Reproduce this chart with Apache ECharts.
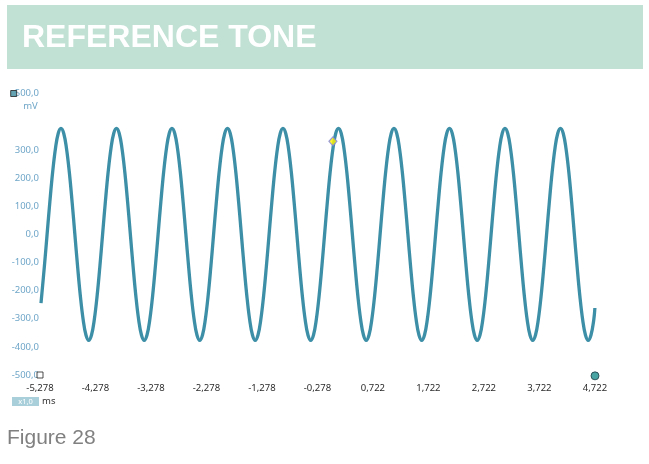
<!DOCTYPE html>
<html>
<head>
<meta charset="utf-8">
<script src="https://cdn.jsdelivr.net/npm/echarts@6/dist/echarts.min.js"></script>
<style>
html,body{margin:0;padding:0;background:#fff;}
#chart{width:649px;height:464px;}
</style>
</head>
<body>
<div id="chart"></div>
<script>
// ---- data ----
var titleText = 'REFERENCE TONE';
var figureLabel = 'Figure 28';
var yUnit = 'mV';
var xUnit = 'ms';
var zoomLabel = 'x1,0';

var xMin = -5.278, xMax = 4.722, xStep = 1;
var yMin = -500, yMax = 500, yStep = 100;
var yHiddenLabels = [400];

// time (ms) of each sample
var timeMs = [
  -5.26,
  -5.2, -5.15, -5.1, -5.05, -5.0, -4.95, -4.9, -4.85, -4.8, -4.75, -4.7, -4.65, -4.6, -4.55, -4.5, -4.45, -4.4, -4.35, -4.3, -4.25,
  -4.2, -4.15, -4.1, -4.05, -4.0, -3.95, -3.9, -3.85, -3.8, -3.75, -3.7, -3.65, -3.6, -3.55, -3.5, -3.45, -3.4, -3.35, -3.3, -3.25,
  -3.2, -3.15, -3.1, -3.05, -3.0, -2.95, -2.9, -2.85, -2.8, -2.75, -2.7, -2.65, -2.6, -2.55, -2.5, -2.45, -2.4, -2.35, -2.3, -2.25,
  -2.2, -2.15, -2.1, -2.05, -2.0, -1.95, -1.9, -1.85, -1.8, -1.75, -1.7, -1.65, -1.6, -1.55, -1.5, -1.45, -1.4, -1.35, -1.3, -1.25,
  -1.2, -1.15, -1.1, -1.05, -1.0, -0.95, -0.9, -0.85, -0.8, -0.75, -0.7, -0.65, -0.6, -0.55, -0.5, -0.45, -0.4, -0.35, -0.3, -0.25,
  -0.2, -0.15, -0.1, -0.05, 0.0, 0.05, 0.1, 0.15, 0.2, 0.25, 0.3, 0.35, 0.4, 0.45, 0.5, 0.55, 0.6, 0.65, 0.7, 0.75,
  0.8, 0.85, 0.9, 0.95, 1.0, 1.05, 1.1, 1.15, 1.2, 1.25, 1.3, 1.35, 1.4, 1.45, 1.5, 1.55, 1.6, 1.65, 1.7, 1.75,
  1.8, 1.85, 1.9, 1.95, 2.0, 2.05, 2.1, 2.15, 2.2, 2.25, 2.3, 2.35, 2.4, 2.45, 2.5, 2.55, 2.6, 2.65, 2.7, 2.75,
  2.8, 2.85, 2.9, 2.95, 3.0, 3.05, 3.1, 3.15, 3.2, 3.25, 3.3, 3.35, 3.4, 3.45, 3.5, 3.55, 3.6, 3.65, 3.7, 3.75,
  3.8, 3.85, 3.9, 3.95, 4.0, 4.05, 4.1, 4.15, 4.2, 4.25, 4.3, 4.35, 4.4, 4.45, 4.5, 4.55, 4.6, 4.65, 4.7,
  4.72
];
// signal (mV)
var signalMv = [
  -245,
  -116, 0, 116, 221, 304, 358, 376, 358, 304, 221, 116, 0, -116, -221, -304, -358, -377, -358, -304, -221,
  -116, 0, 116, 221, 304, 358, 376, 358, 304, 221, 116, 0, -116, -221, -304, -358, -377, -358, -304, -221,
  -116, 0, 116, 221, 304, 358, 376, 358, 304, 221, 116, 0, -116, -221, -304, -358, -377, -358, -304, -221,
  -116, 0, 116, 221, 304, 358, 376, 358, 304, 221, 116, 0, -116, -221, -304, -358, -377, -358, -304, -221,
  -116, 0, 116, 221, 304, 358, 376, 358, 304, 221, 116, 0, -116, -221, -304, -358, -377, -358, -304, -221,
  -116, 0, 116, 221, 304, 358, 376, 358, 304, 221, 116, 0, -116, -221, -304, -358, -377, -358, -304, -221,
  -116, 0, 116, 221, 304, 358, 376, 358, 304, 221, 116, 0, -116, -221, -304, -358, -377, -358, -304, -221,
  -116, 0, 116, 221, 304, 358, 376, 358, 304, 221, 116, 0, -116, -221, -304, -358, -377, -358, -304, -221,
  -116, 0, 116, 221, 304, 358, 376, 358, 304, 221, 116, 0, -116, -221, -304, -358, -377, -358, -304, -221,
  -116, 0, 116, 221, 304, 358, 376, 358, 304, 221, 116, 0, -116, -221, -304, -358, -377, -358, -304,
  -262
];

// cursor / handle markers [time ms, mV]
var cursorDiamond = [[0.0, 330]];
var handleTopLeft = [[-5.752, 500]];
var handleBottomLeft = [[-5.278, -500]];
var handleBottomRight = [[4.722, -503]];

// ---- build chart ----
var lineData = timeMs.map(function (t, i) { return [t, signalMv[i]]; });

function fmt(v, d) {
  return v.toFixed(d).replace('.', ',');
}

var chart = echarts.init(document.getElementById('chart'), null, {renderer: 'canvas'});
chart.setOption({
  animation: false,
  backgroundColor: '#ffffff',
  grid: {left: 40, right: 54, top: 93.5, bottom: 89, containLabel: false, outerBoundsMode: 'none'},
  xAxis: {
    type: 'value', min: xMin, max: xMax, interval: xStep,
    axisLine: {show: false}, axisTick: {show: false}, splitLine: {show: false},
    axisLabel: {
      margin: 8, color: '#2b2b2b', fontSize: 9.5, fontFamily: 'Noto Sans',
      showMinLabel: true, showMaxLabel: true,
      formatter: function (v) {
        var idx = Math.round((v - xMin) / xStep);
        return fmt(xMin + idx * xStep, 3);
      }
    }
  },
  yAxis: {
    type: 'value', min: yMin, max: yMax, interval: yStep,
    axisLine: {show: false}, axisTick: {show: false}, splitLine: {show: false},
    axisLabel: {
      margin: 1, color: '#6fa6c8', fontSize: 9.5, fontFamily: 'Noto Sans',
      formatter: function (v) {
        if (yHiddenLabels.indexOf(Math.round(v)) >= 0) return '';
        return fmt(v, 1);
      }
    }
  },
  series: [
    {
      type: 'line', data: lineData, smooth: 0.4, symbol: 'none',
      lineStyle: {color: '#3d8fa7', width: 3.3}, z: 2
    },
    {
      type: 'scatter', data: cursorDiamond, symbol: 'diamond', symbolSize: [8, 9], clip: false,
      itemStyle: {color: '#fff200', borderColor: '#7f7fe0', borderWidth: 1.2}, z: 5
    },
    {
      type: 'scatter', data: handleTopLeft, symbol: 'rect', symbolSize: 6, clip: false,
      itemStyle: {color: '#3f8ca0', borderColor: '#222222', borderWidth: 1}, z: 5
    },
    {
      type: 'scatter', data: handleBottomLeft, symbol: 'rect', symbolSize: 6, clip: false,
      itemStyle: {color: '#ffffff', borderColor: '#222222', borderWidth: 1}, z: 5
    },
    {
      type: 'scatter', data: handleBottomRight, symbol: 'circle', symbolSize: 8, clip: false,
      itemStyle: {color: '#1a8c8c', borderColor: '#1d3b44', borderWidth: 1}, z: 5
    }
  ],
  graphic: [
    {
      type: 'rect', shape: {x: 7, y: 5, width: 636, height: 64},
      style: {fill: '#c1e1d4'}, z: -1, silent: true
    },
    {
      type: 'text', x: 22, y: 38,
      style: {
        text: titleText, fill: '#ffffff', fontSize: 32, fontWeight: 'bold',
        fontFamily: 'Liberation Sans, Arial, sans-serif', verticalAlign: 'middle', align: 'left'
      }
    },
    {
      type: 'text', x: 30.5, y: 106,
      style: {text: yUnit, fill: '#6fa6c8', fontSize: 9.5, fontFamily: 'Noto Sans',
        align: 'center', verticalAlign: 'middle'}
    },
    {
      type: 'rect', shape: {x: 12, y: 397, width: 27, height: 9},
      style: {fill: '#a9cfda'}
    },
    {
      type: 'text', x: 25.5, y: 401.5,
      style: {text: zoomLabel, fill: '#ffffff', fontSize: 7.5, fontFamily: 'Noto Sans',
        align: 'center', verticalAlign: 'middle'}
    },
    {
      type: 'text', x: 42, y: 401.5,
      style: {text: xUnit, fill: '#333333', fontSize: 9.5, fontFamily: 'Noto Sans',
        align: 'left', verticalAlign: 'middle'}
    },
    {
      type: 'text', x: 7, y: 438,
      style: {text: figureLabel, fill: '#808080', fontSize: 21,
        fontFamily: 'Liberation Sans, Arial, sans-serif', align: 'left', verticalAlign: 'middle'}
    }
  ]
});
</script>
</body>
</html>
